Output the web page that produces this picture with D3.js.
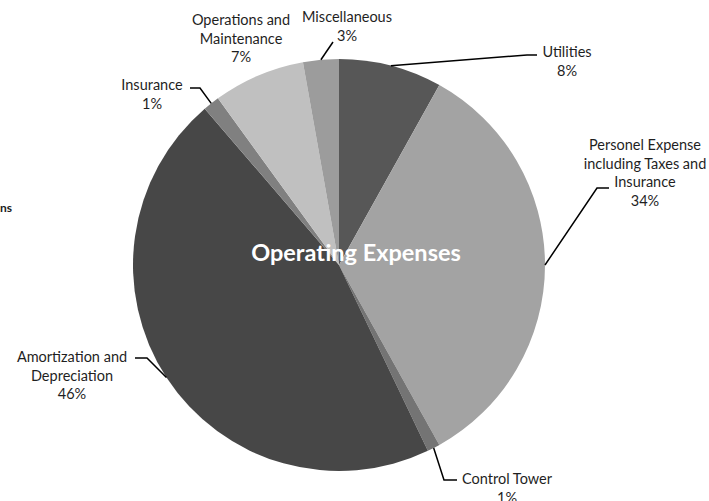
<!DOCTYPE html>
<html>
<head>
<meta charset="utf-8">
<script src="https://cdn.jsdelivr.net/npm/d3@7"></script>
<style>
  body { margin: 0; background: #fff; }
  svg { display: block; }
  .lbl { font-family: Lato, "Open Sans", sans-serif; font-size: 14.5px; fill: #1f1f1f; }
</style>
</head>
<body>
<div id="chart"></div>
<script>
// operating expense shares (percent of total)
var categories = ["Utilities", "Personel Expense including Taxes and Insurance", "Control Tower",
    "Amortization and Depreciation", "Insurance", "Operations and Maintenance", "Miscellaneous"];
var values = [8.1, 33.8, 1.0, 45.8, 1.3, 7.2, 2.8];
var labelLines = [
    ["Utilities"],
    ["Personel Expense", "including Taxes and", "Insurance"],
    ["Control Tower"],
    ["Amortization and", "Depreciation"],
    ["Insurance"],
    ["Operations and", "Maintenance"],
    ["Miscellaneous"]
];
var sliceColors = ["#575757", "#a3a3a3", "#747474", "#474747", "#808080", "#c0c0c0", "#9c9c9c"];
var title = "Operating Expenses";

var width = 709, height = 501;
var cx = 339, cy = 265, radius = 206;

// where each label sits, and the leader's elbow (null = no leader)
var layout = [
    { x: 567, y: 57, elbow: [527, 55], end: [537, 55] },
    { x: 645, y: 150, elbow: [597, 188], end: [609, 188] },
    { x: 507, y: 484, elbow: [444, 480], end: [457, 480] },
    { x: 72, y: 362, elbow: [147, 358], end: [135, 358] },
    { x: 152, y: 90, elbow: [200, 88], end: [190, 88] },
    { x: 241, y: 25, elbow: null },
    { x: 347, y: 22, elbow: [333, 42], end: [333, 42] }
];

var data = categories.map(function(c, i) {
    return { name: c, value: values[i], lines: labelLines[i], color: sliceColors[i], pos: layout[i] };
});
var total = d3.sum(values);

var svg = d3.select("#chart").append("svg")
    .attr("width", width)
    .attr("height", height);

var g = svg.append("g").attr("transform", "translate(" + cx + "," + cy + ")");

var pie = d3.pie().sort(null).value(function(d) { return d.value; });
var arc = d3.arc().innerRadius(0).outerRadius(radius);
var arcs = pie(data);

g.selectAll("path.slice")
    .data(arcs)
    .enter().append("path")
    .attr("class", "slice")
    .attr("d", arc)
    .attr("fill", function(d) { return d.data.color; })
    .attr("stroke", "none");

// leader lines from the slice's outer edge at mid angle
arcs.forEach(function(d) {
    var p = d.data.pos;
    if (!p.elbow) return;
    var a = (d.startAngle + d.endAngle) / 2;
    var sx = cx + Math.sin(a) * radius, sy = cy - Math.cos(a) * radius;
    svg.append("polyline")
        .attr("points", [[sx, sy], p.elbow, p.end].map(function(q) { return q.join(","); }).join(" "))
        .attr("fill", "none")
        .attr("stroke", "#000")
        .attr("stroke-width", 1.5);
});

// labels
arcs.forEach(function(d) {
    var p = d.data.pos;
    var t = svg.append("text")
        .attr("class", "lbl")
        .attr("text-anchor", "middle")
        .attr("x", p.x)
        .attr("y", p.y);
    var lines = d.data.lines.concat([Math.round(d.data.value / total * 100) + "%"]);
    lines.forEach(function(l, i) {
        t.append("tspan")
            .attr("x", p.x)
            .attr("dy", i === 0 ? 0 : 18.5)
            .text(l);
    });
});

// title over the pie
svg.append("text")
    .attr("x", 356)
    .attr("y", 261)
    .attr("text-anchor", "middle")
    .style("font-family", "Lato, 'Open Sans', sans-serif")
    .style("font-weight", "bold")
    .style("font-size", "23.5px")
    .style("fill", "#fff")
    .text(title);

// clipped remnant on the left edge
svg.append("text")
    .attr("x", 12)
    .attr("y", 212)
    .attr("text-anchor", "end")
    .style("font-family", "Lato, sans-serif")
    .style("font-weight", "bold")
    .style("font-size", "12px")
    .style("fill", "#1a1a1a")
    .text("ns");
</script>
</body>
</html>
